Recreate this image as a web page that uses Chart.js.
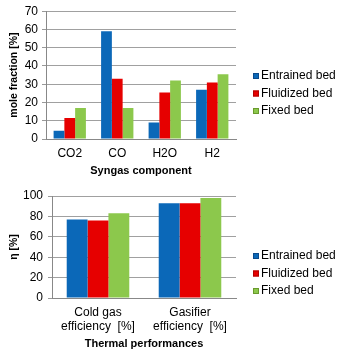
<!DOCTYPE html>
<html>
<head>
<meta charset="utf-8">
<script src="https://cdn.jsdelivr.net/npm/chart.js@4"></script>
<style>
  body { margin: 0; background: #fff; }
  canvas { display: block; }
</style>
</head>
<body>
<canvas id="gasChart" width="340" height="178"></canvas>
<canvas id="effChart" width="340" height="177"></canvas>
<script>
// syngas composition per gasifier type
const components = ['CO2', 'CO', 'H2O', 'H2'];
const entrainedGas = [4.5, 59, 9, 27];
const fluidizedGas = [11.5, 33, 25.5, 31];
const fixedGas = [17, 17, 32, 35.5];

// thermal performance per gasifier type
const performances = [['Cold gas', 'efficiency  [%]'], ['Gasifier', 'efficiency  [%]']];
const entrainedEff = [77, 93];
const fluidizedEff = [76, 93];
const fixedEff = [83, 98];

const bedNames = ['Entrained bed', 'Fluidized bed', 'Fixed bed'];
// edge, highlight, body
const bedColors = [
  ['#0a4a8c', '#2a8ee0', '#0b68b8'],
  ['#b00000', '#ff3030', '#e60000'],
  ['#6a9a2c', '#b4e678', '#8cc84c']
];

Chart.defaults.font.family = '"Liberation Sans", Arial, sans-serif';
Chart.defaults.font.size = 12;
Chart.defaults.color = '#000';

// horizontal shading so the bars look a bit rounded
function shade(i) {
  return ctx => {
    const bar = ctx.element;
    if (!bar || !bar.width || !isFinite(bar.x)) return bedColors[i][2];
    const half = bar.width / 2;
    const g = ctx.chart.ctx.createLinearGradient(bar.x - half, 0, bar.x + half, 0);
    g.addColorStop(0, bedColors[i][0]);
    g.addColorStop(0.15, bedColors[i][2]);
    g.addColorStop(0.45, bedColors[i][1]);
    g.addColorStop(0.85, bedColors[i][2]);
    g.addColorStop(1, bedColors[i][0]);
    return g;
  };
}

function makeSets(a, b, c) {
  return [a, b, c].map((vals, i) => ({
    label: bedNames[i],
    data: vals,
    backgroundColor: shade(i),
    borderWidth: 0,
    categoryPercentage: 0.68,
    barPercentage: 1
  }));
}

// legend drawn to the right of the plot, rows stacked from rowTop
const sideLegend = {
  id: 'sideLegend',
  afterDraw(chart, args, opts) {
    const c = chart.ctx;
    const x = chart.chartArea.right + 17;
    c.save();
    c.font = '12px "Liberation Sans", Arial, sans-serif';
    c.textBaseline = 'middle';
    chart.data.datasets.forEach((ds, i) => {
      const y = opts.rowTop + i * 17.5;
      c.fillStyle = bedColors[i][2];
      c.fillRect(x, y - 3, 6, 6);
      c.strokeStyle = bedColors[i][0];
      c.lineWidth = 1;
      c.strokeRect(x + 0.5, y - 2.5, 5, 5);
      c.fillStyle = '#000';
      c.fillText(ds.label, x + 8, y);
    });
    c.restore();
  }
};

function makeOptions(o) {
  return {
    responsive: false,
    animation: false,
    layout: { padding: { top: o.padTop, right: 104, left: 2, bottom: 0 } },
    plugins: {
      legend: { display: false },
      tooltip: { enabled: false },
      sideLegend: { rowTop: o.legendTop }
    },
    scales: {
      x: {
        grid: { display: false, drawTicks: false },
        border: { color: '#888' },
        ticks: { padding: 7, maxRotation: 0 },
        title: { display: true, text: o.xTitle, font: { weight: 'bold', size: 11 }, padding: { top: 0, bottom: o.xTitlePad } },
        afterFit: s => { s.height = o.xHeight; }
      },
      y: {
        min: 0, max: o.yMax,
        ticks: { stepSize: o.yStep, padding: o.tickPad },
        grid: { color: '#a0a0a0', tickLength: 4, tickColor: '#999' },
        border: { color: '#888' },
        title: { display: true, text: o.yTitle, font: { weight: 'bold', size: 10.5 }, padding: { top: 6, bottom: 0 } },
        afterFit: s => { s.width = o.yWidth; }
      }
    }
  };
}

new Chart(document.getElementById('gasChart'), {
  type: 'bar',
  data: { labels: components, datasets: makeSets(entrainedGas, fluidizedGas, fixedGas) },
  options: makeOptions({
    yMax: 70, yStep: 10, yTitle: 'mole fraction [%]', xTitle: 'Syngas component',
    padTop: 7.8, yWidth: 44, tickPad: 4, xHeight: 39, xTitlePad: 0, legendTop: 76
  }),
  plugins: [sideLegend]
});

new Chart(document.getElementById('effChart'), {
  type: 'bar',
  data: { labels: performances, datasets: makeSets(entrainedEff, fluidizedEff, fixedEff) },
  options: makeOptions({
    yMax: 100, yStep: 20, yTitle: 'η [%]', xTitle: 'Thermal performances',
    padTop: 18, yWidth: 50, tickPad: 5, xHeight: 57, xTitlePad: 4, legendTop: 78
  }),
  plugins: [sideLegend]
});
</script>
</body>
</html>
